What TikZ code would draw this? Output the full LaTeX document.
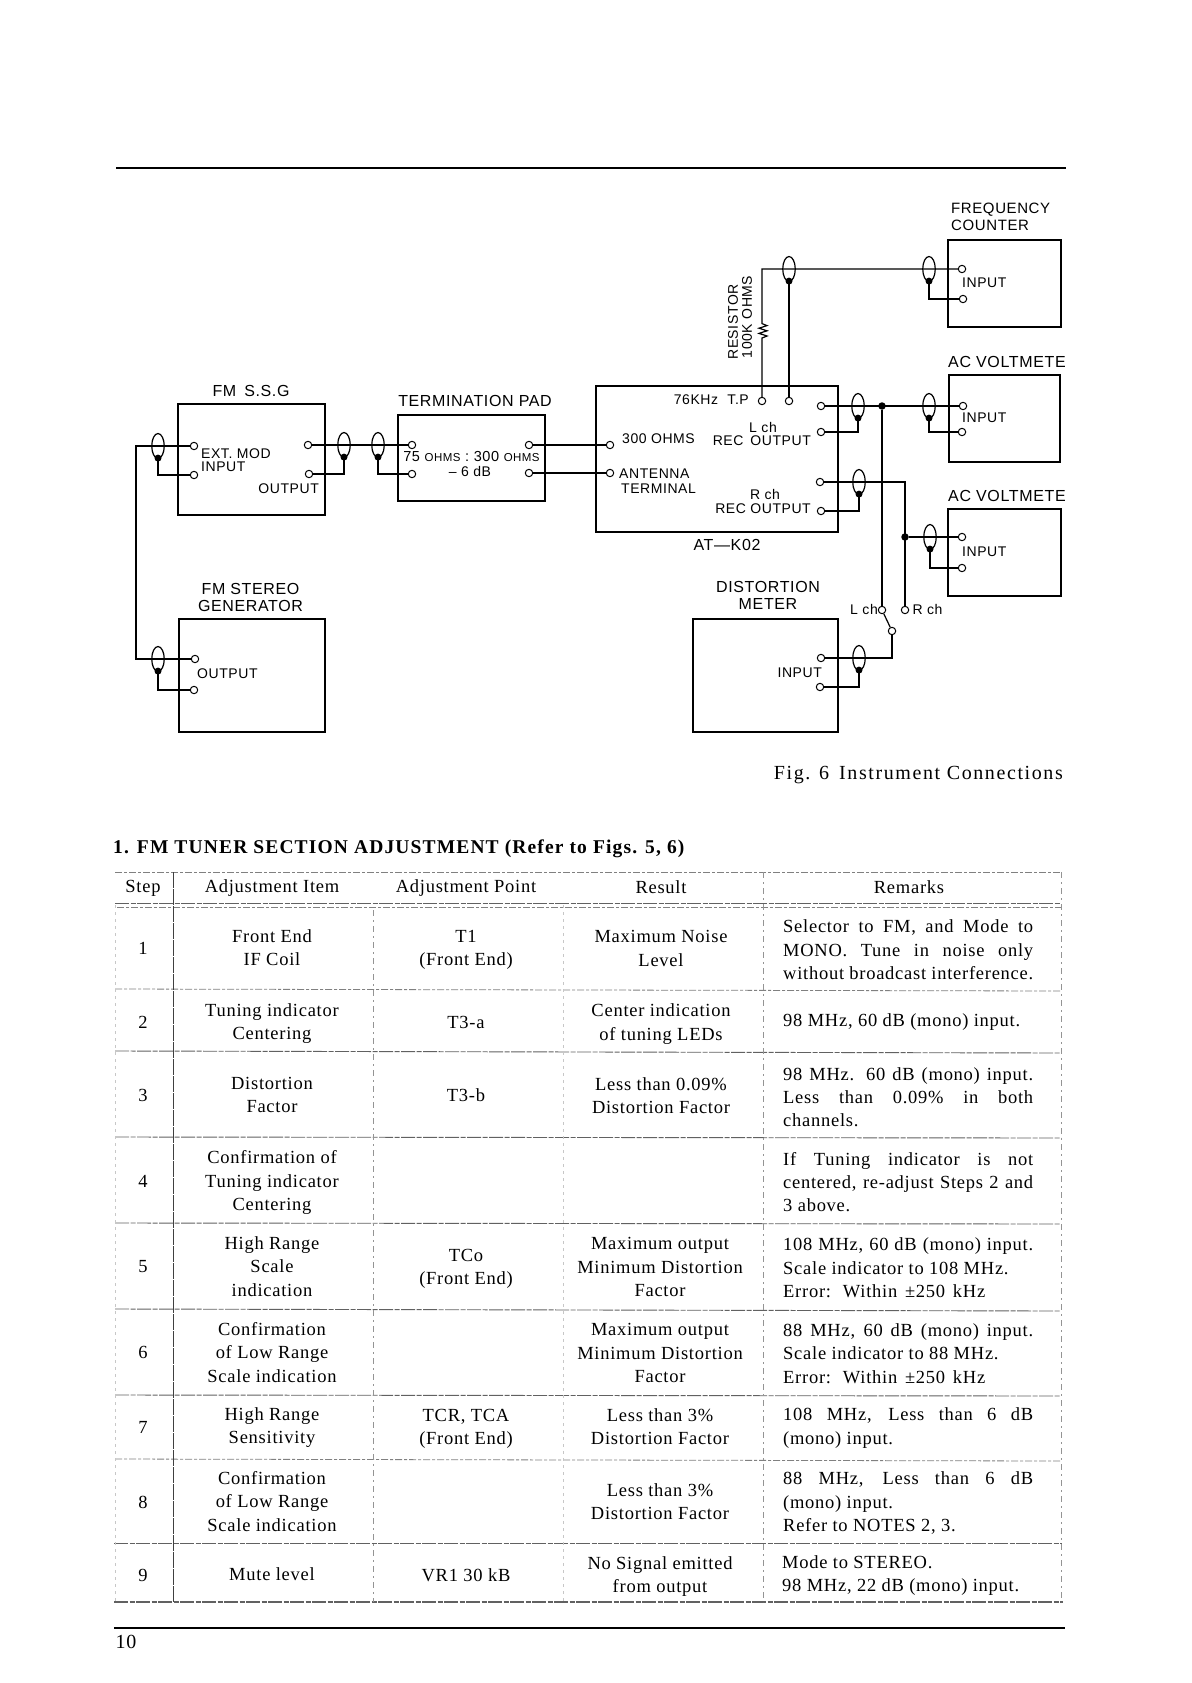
\documentclass[tikz,border=0pt]{standalone}
\usepackage{fontspec}
\setmainfont{Liberation Serif}[LetterSpace=4]
\newfontfamily\diagfam{Liberation Sans}[LetterSpace=4]
\newfontfamily\titlefam{Liberation Serif}[LetterSpace=5.9]
\newfontfamily\capfam{Liberation Serif}[LetterSpace=8]
\usetikzlibrary{shapes.geometric}
\newcommand{\tabf}{\rmfamily\fontsize{18.5}{23.3}\selectfont}
\newcommand{\biglab}{\diagfam\fontsize{16}{17}\selectfont}
\newcommand{\smlab}{\diagfam\fontsize{14}{13}\selectfont}
\newcommand{\J}[1]{\makebox[250pt][s]{#1}}
\newcommand{\E}[1]{\makebox[202pt][s]{#1}}
\tikzset{
  devbox/.style={draw,line width=1.7pt,rectangle,inner sep=0pt,minimum width=#1},
  devh/.style={minimum height=#1},
  term/.style={draw,circle,line width=1pt,inner sep=0pt,minimum size=7.4pt,fill=white},
  coaxring/.style={draw,ellipse,line width=1.2pt,inner sep=0pt,minimum width=12.5pt,minimum height=25pt},
  wire/.style={line width=1.2pt},
  jdot/.style={circle,fill=black,inner sep=0pt,minimum size=7.5pt},
  blob/.style={circle,fill=black,inner sep=0pt,minimum size=7pt},
  big/.style={font=\biglab,inner sep=0pt,align=center},
  sml/.style={font=\smlab,inner sep=0pt,align=left},
  cell/.style={font=\tabf,inner sep=0pt,align=center},
  rem/.style={font=\tabf,inner sep=0pt,align=left,anchor=west},
  hl/.style={black!62,line width=.9pt,dash pattern=on 14pt off 1.5pt on 5pt off 1.5pt},
  hlfaint/.style={black!50,line width=.8pt,dash pattern=on 7pt off 2pt on 3pt off 2pt},
  vsolid/.style={black!75,line width=.9pt,dash pattern=on 16pt off 1pt},
  vdash/.style={black!42,line width=.7pt,dash pattern=on 6pt off 4pt on 2pt off 4pt},
  vfaint/.style={black!22,line width=.9pt,dash pattern=on 3pt off 4pt},
  rule/.style={black,line width=2pt}
}
\newcommand{\coax}[3]{\node[coaxring] (#1) at (#2,#3) {};\node[blob] (#1b) at ([yshift=1pt]#1.south) {};}
\begin{document}
\begin{tikzpicture}[x=1pt,y=-1pt]
\useasboundingbox[fill=white] (0,0) rectangle (1191,1683);
% page rules
\draw[rule] (116,168) -- (1066,168);
\draw[rule] (114,1628) -- (1065,1628);
\node[font=\fontsize{20}{22}\selectfont,inner sep=0pt] (pageno) at (126,1642) {10};

% boxes
\node[devbox=147pt,devh=111pt] (ssg) at (251.5,459.5) {};
\node[devbox=147pt,devh=86pt] (pad) at (471.5,458) {};
\node[devbox=146pt,devh=113pt] (stereo) at (252,675.5) {};
\node[devbox=242pt,devh=146pt] (atk) at (717,459) {};
\node[devbox=113pt,devh=87pt] (freq) at (1004.5,283.5) {};
\node[devbox=111pt,devh=87pt] (ac1) at (1004.5,418.5) {};
\node[devbox=113pt,devh=87pt] (ac2) at (1004.5,552.5) {};
\node[devbox=145pt,devh=113pt] (dist) at (765.5,675.5) {};

% terminals
\foreach \n/\x/\y in {ta/194/446,tb/194/475,oa/308/445,ob/309/474,pa/412/445,pb/412/474,qa/529/445,qb/529/473,
  aa/610/445,ab/610/473,sa/195/659,sb/194/690,tp1/762/401,tp2/789/401,fa/962/269,fb/963/299,
  la/821/406,lb/821/432,va/963/406,vb/962/432,ra/820/482,rb/821/511,wa/962/537,wb/962/568,
  lch/882/610,rch/905/610,sw/892/631,da/821/658,db/820/687}
  \node[term] (\n) at (\x,\y) {};

% cable rings
\coax{c1}{158}{446}\coax{c2}{344}{445}\coax{c3}{378}{445}\coax{c4}{158}{659}
\coax{c5}{789}{269}\coax{c6}{929}{269}\coax{c7}{858}{406}\coax{c8}{929}{406}
\coax{c9}{859}{482}\coax{c10}{930}{537}\coax{c11}{859}{658}
\node[jdot] (j1) at (882,406) {};
\node[jdot] (j2) at (905,537) {};

% named bends
\coordinate (lw1) at (136,446);
\coordinate (lw2) at (136,659);
\coordinate (rtop) at (762,269);
\coordinate (rbot) at (762,338);
\coordinate (rup) at (762,322);
\coordinate (rbend) at (905,482);
\coordinate (swb) at (892,658);

% connectors
\draw[wire] (ta) -- (lw1) -- (lw2) -- (sa);
\draw[wire] (c1.south) |- (tb);
\draw[wire] (c4.south) |- (sb);
\draw[wire] (oa) -- (pa);
\draw[wire] (c2.south) |- (ob);
\draw[wire] (c3.south) |- (pb);
\draw[wire] (qa) -- (aa);
\draw[wire] (qb) -- (ab);
\draw[wire] (tp1) -- (rbot) -- ++(5,-2) -- ++(-8,-2.6) -- ++(8,-2.6) -- ++(-8,-2.6) -- ++(8,-2.6) -- ++(-5,-2) -- (rup) -- (rtop) -- (fa);
\draw[wire] (c5.south) -- (tp2);
\draw[wire] (c6.south) |- (fb);
\draw[wire] (la) -- (va);
\draw[wire] (c7.south) |- (lb);
\draw[wire] (c8.south) |- (vb);
\draw[wire] (j1) -- (lch);
\draw[wire] (ra) -- (rbend) -- (rch);
\draw[wire] (c9.south) |- (rb);
\draw[wire] (j2) -- (wa);
\draw[wire] (c10.south) |- (wb);
\draw[wire] (lch) -- (sw);
\draw[wire] (sw) -- (swb) -- (da);
\draw[wire] (c11.south) |- (db);

% diagram labels
\node[big] (lssg) at (251,391) {FM\enspace S.S.G};
\node[big] (lpad) at (475,401) {TERMINATION PAD};
\node[big] (lst) at (250.5,597) {FM STEREO\\GENERATOR};
\node[big,anchor=west,font=\diagfam\fontsize{15}{17}\selectfont,align=left] (lfreq) at (951,216.5) {FREQUENCY\\COUNTER};
\node[big,anchor=west] (lac1) at (948,362) {AC VOLTMETE};
\node[big,anchor=west] (lac2) at (948,496) {AC VOLTMETE};
\node[big] (lat) at (727,545) {AT—K02};
\node[big] (ldist) at (768,595.5) {DISTORTION\\METER};
\node[sml,anchor=west] (lext) at (201,454) {EXT. MOD};
\node[sml,anchor=west] (lext2) at (201,467) {INPUT};
\node[sml,anchor=east] (lout) at (319,489) {OUTPUT};
\node[sml,anchor=west] (lout2) at (197,674) {OUTPUT};
\node[sml,font=\diagfam\fontsize{14.5}{13}\selectfont] (lr75) at (471.5,456.5) {75 {\fontsize{11.5}{12}\selectfont OHMS} : 300 {\fontsize{11.5}{12}\selectfont OHMS}};
\node[sml] (l6db) at (470,471) {– 6 dB};
\node[sml,anchor=east] (l76) at (749,400) {76KHz\enspace\,T.P};
\node[sml,anchor=west] (l300) at (622,439) {300 OHMS};
\node[sml,anchor=west] (lant) at (619,474) {ANTENNA};
\node[sml,anchor=west] (lant2) at (621,489) {TERMINAL};
\node[sml] (llch) at (763,427) {L ch};
\node[sml,anchor=east] (lrec1) at (811,441) {REC\enspace OUTPUT};
\node[sml] (lrch) at (765,494) {R ch};
\node[sml,anchor=east] (lrec2) at (811,509) {REC OUTPUT};
\node[sml] (lsw1) at (864,609) {L ch};
\node[sml] (lsw2) at (927.5,609) {R ch};
\node[sml,anchor=west] (lin1) at (962,283) {INPUT};
\node[sml,anchor=west] (lin2) at (962,418) {INPUT};
\node[sml,anchor=west] (lin3) at (962,552) {INPUT};
\node[sml,anchor=east] (lin4) at (822,673) {INPUT};
\node[sml,rotate=90] (lres1) at (733,322) {RESISTOR};
\node[sml,rotate=90] (lres2) at (747,317) {100K OHMS};
\node[font=\capfam\fontsize{20}{22}\selectfont,inner sep=0pt,anchor=east] (figcap) at (1063,775) {Fig. 6\enspace Instrument Connections};
\node[font=\titlefam\bfseries\fontsize{19.5}{22}\selectfont,inner sep=0pt,anchor=west] (ttl) at (113,849) {1. FM TUNER SECTION ADJUSTMENT (Refer to Figs. 5, 6)};

% table rules
\draw[hlfaint] (115,872) -- (1061,872);
\draw[hl] (115,903) -- (1061,903);
\draw[hlfaint] (117,907) -- (1061,907);
\draw[hlfaint] (115,989) -- (1061,991);
\draw[hl] (115,1051) -- (1061,1053);
\draw[hl] (115,1137) -- (1061,1138);
\draw[hl] (115,1223) -- (1060,1224);
\draw[hl] (115,1309) -- (1060,1311);
\draw[hl] (115,1395) -- (1060,1396);
\draw[hlfaint] (115,1459) -- (1060,1461);
\draw[hl] (114,1543) -- (1062,1543);
\draw[hl,line width=1.2pt] (114,1602) -- (1063,1602);
\draw[vsolid] (173,872) -- (173,1602);
\draw[vdash] (373,910) -- (373,1602);
\draw[vfaint] (563,905) -- (563,1602);
\draw[vdash] (763,872) -- (763,1602);
\draw[vdash] (1061,872) -- (1061,1602);
\draw[vfaint] (115,905) -- (115,1602);

% header
\foreach \n/\x/\y/\t in {h1/143/888/Step,h2/272/888/Adjustment Item,h3/466/888/Adjustment Point,h4/661/887/Result,h5/909/887/Remarks}
  \node[cell] (\n) at (\x,\y) {\t};

% column 1
\foreach \n/\y in {1/948,2/1022,3/1095,4/1181,5/1267,6/1352,7/1427,8/1502,9/1575}
  \node[cell] (st\n) at (143,\y) {\n};

% column 2
\node[cell] (i1) at (272,947.5) {Front End\\IF Coil};
\node[cell] (i2) at (272,1023.5) {Tuning indicator\\Centering};
\node[cell] (i3) at (272,1095) {Distortion\\Factor};
\node[cell] (i4) at (272,1182.5) {Confirmation of\\Tuning indicator\\Centering};
\node[cell] (i5) at (272,1266.5) {High Range\\Scale\\indication};
\node[cell] (i6) at (272,1352.5) {Confirmation\\of Low Range\\Scale indication};
\node[cell] (i7) at (272,1427.5) {High Range\\Sensitivity};
\node[cell] (i8) at (272,1501.5) {Confirmation\\of Low Range\\Scale indication};
\node[cell] (i9) at (272,1574) {Mute level};

% column 3
\node[cell] (p1) at (466,950) {T1\\(Front End)};
\node[cell] (p2) at (466,1022) {T3-a};
\node[cell] (p3) at (466,1095) {T3-b};
\node[cell] (p5) at (466,1269) {TCo\\(Front End)};
\node[cell] (p7) at (466,1429) {TCR, TCA\\(Front End)};
\node[cell] (p9) at (466,1575) {VR1 30 kB};

% column 4
\node[cell] (r1) at (661,948.5) {Maximum Noise\\Level};
\node[cell] (r2) at (661,1024) {Center indication\\of tuning LEDs};
\node[cell] (r3) at (661,1095.5) {Less than 0.09\%\\Distortion Factor};
\node[cell] (r5) at (660,1267) {Maximum output\\Minimum Distortion\\Factor};
\node[cell] (r6) at (660,1353) {Maximum output\\Minimum Distortion\\Factor};
\node[cell] (r7) at (660,1427) {Less than 3\%\\Distortion Factor};
\node[cell] (r8) at (660,1502) {Less than 3\%\\Distortion Factor};
\node[cell] (r9) at (660,1576.5) {No Signal emitted\\from output};

% column 5
\node[rem] (m1) at (783,950) {\J{Selector to FM, and Mode to}\\\J{MONO. Tune in noise only}\\\J{without broadcast interference.}};
\node[rem] (m2) at (783,1022) {98 MHz, 60 dB (mono) input.};
\node[rem] (m3) at (783,1097) {\J{98 MHz. 60 dB (mono) input.}\\\J{Less than 0.09\% in both}\\channels.};
\node[rem] (m4) at (783,1182) {\J{If Tuning indicator is not}\\\J{centered, re-adjust Steps 2 and}\\3 above.};
\node[rem] (m5) at (783,1268) {\J{108 MHz, 60 dB (mono) input.}\\Scale indicator to 108 MHz.\\\E{Error: Within ±250 kHz}};
\node[rem] (m6) at (783,1353.5) {\J{88 MHz, 60 dB (mono) input.}\\Scale indicator to 88 MHz.\\\E{Error: Within ±250 kHz}};
\node[rem] (m7) at (783,1428) {\J{108 MHz, Less than 6 dB}\\(mono) input.};
\node[rem] (m8) at (783,1503) {\J{88 MHz, Less than 6 dB}\\(mono) input.\\Refer to NOTES 2, 3.};
\node[rem] (m9) at (782,1575.5) {Mode to STEREO.\\98 MHz, 22 dB (mono) input.};
\end{tikzpicture}
\end{document}
